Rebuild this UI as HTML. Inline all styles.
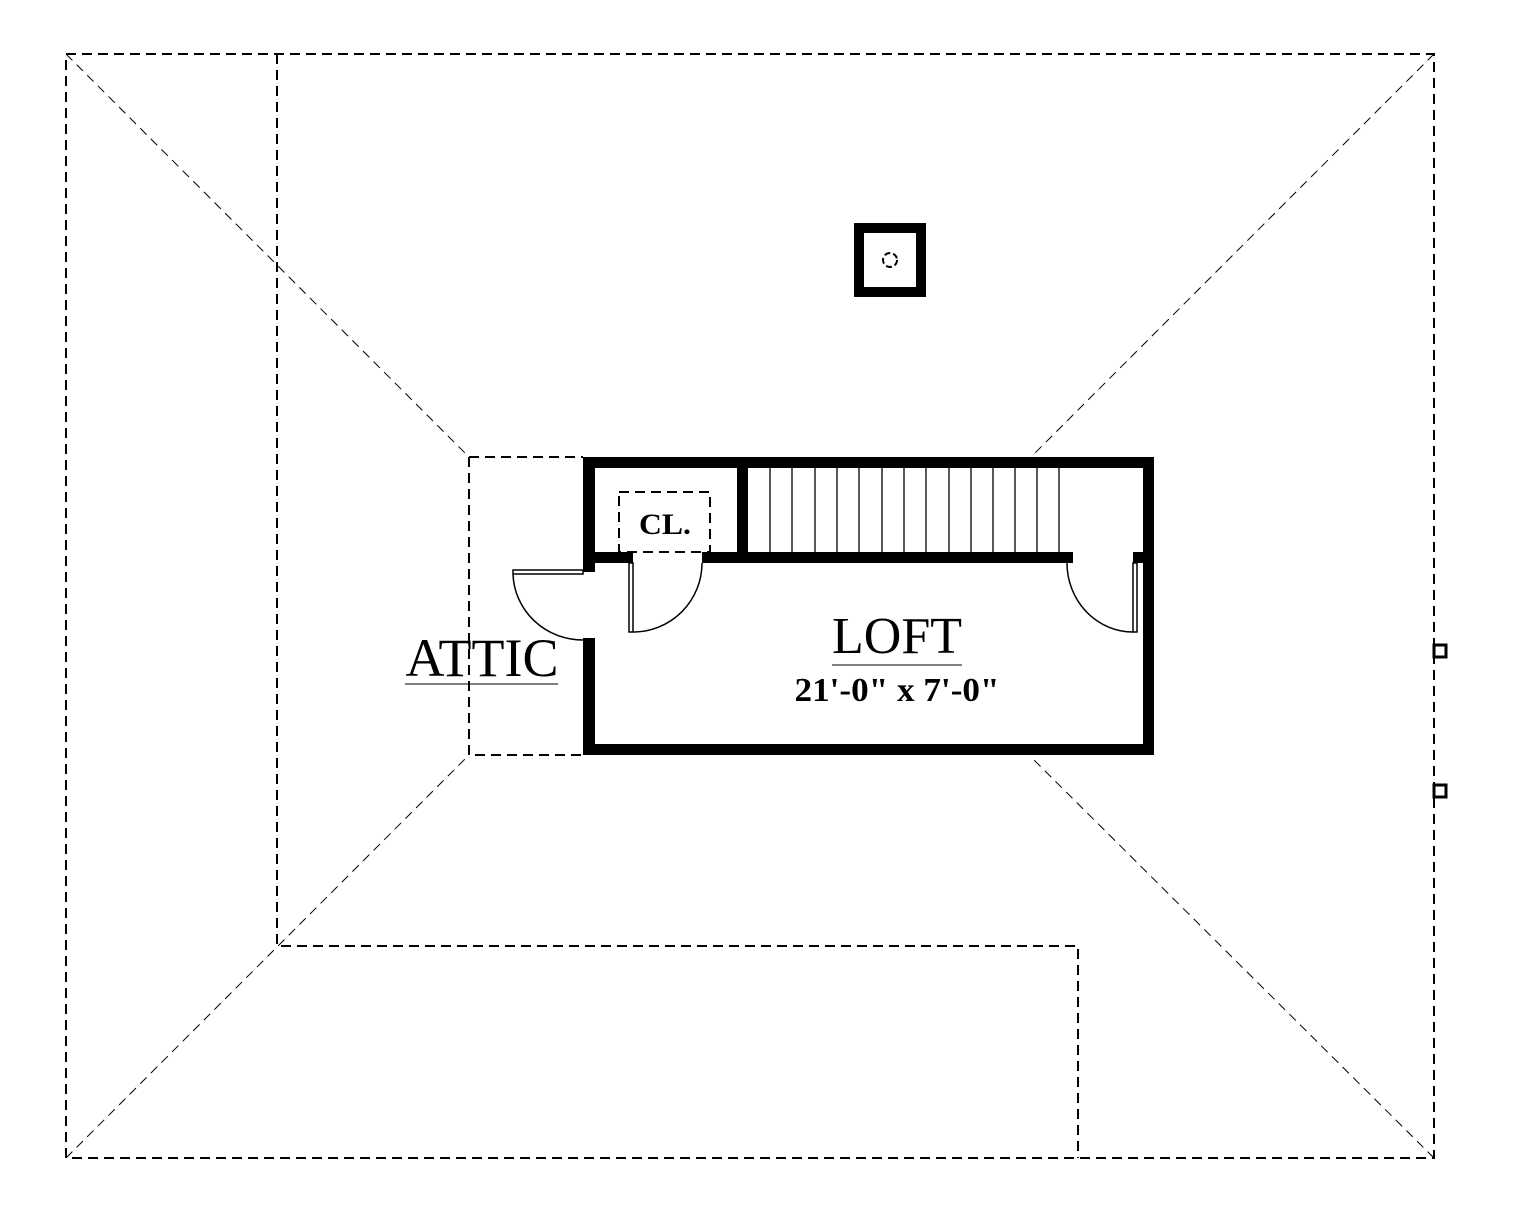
<!DOCTYPE html>
<html><head><style>html,body{margin:0;padding:0;background:#fff}svg{display:block}</style></head>
<body>
<svg width="1532" height="1232" viewBox="0 0 1532 1232" xmlns="http://www.w3.org/2000/svg">
<g fill="none" stroke="#000" stroke-width="2" stroke-dasharray="10,6">
<rect x="66" y="54" width="1368" height="1104"/>
<path d="M277 54 V946 H1078 V1158"/>
<path d="M469 457 H583 M469 457 V755 H583"/>
<rect x="619" y="492" width="91" height="60"/>
</g>
<g fill="none" stroke="#000" stroke-width="1" stroke-dasharray="9,6">
<path d="M66 54 L469 457"/>
<path d="M1434 54 L1030 458"/>
<path d="M1434 1158 L1033 759"/>
<path d="M66 1158 L469 755"/>
</g>
<rect x="859" y="228" width="62" height="64" fill="none" stroke="#000" stroke-width="10"/>
<circle cx="890" cy="260" r="7" fill="none" stroke="#000" stroke-width="2" stroke-dasharray="6,3"/>
<rect x="1434" y="645" width="12" height="12" fill="#fff" stroke="#000" stroke-width="3"/>
<rect x="1434" y="785" width="12" height="12" fill="#fff" stroke="#000" stroke-width="3"/>
<g fill="#000">
<rect x="583" y="457" width="571" height="11"/>
<rect x="1143" y="457" width="11" height="298"/>
<rect x="583" y="744" width="571" height="11"/>
<rect x="583" y="457" width="12" height="115"/>
<rect x="583" y="638" width="12" height="117"/>
<rect x="737" y="457" width="11" height="106"/>
<rect x="583" y="552" width="50" height="11"/>
<rect x="702" y="552" width="371" height="11"/>
<rect x="1133" y="552" width="21" height="11"/>
</g>
<g stroke="#000" stroke-width="1.3">
<path d="M770 467V552M792 467V552M815 467V552M837 467V552M859 467V552M882 467V552M904 467V552M926 467V552M949 467V552M971 467V552M993 467V552M1015 467V552M1037 467V552M1059 467V552"/>
</g>
<g fill="none" stroke="#000" stroke-width="1.5">
<rect x="513" y="570" width="70" height="4"/>
<path d="M513 574 A 70 68 0 0 0 583 640"/>
<rect x="629" y="563" width="4" height="69"/>
<path d="M633 632 A 69 69 0 0 0 702 563"/>
<rect x="1133" y="563" width="4" height="69"/>
<path d="M1133 632 A 66 69 0 0 1 1067 563"/>
</g>
<g font-family="Liberation Serif, serif" fill="#000" text-anchor="middle">
<text x="665" y="534" font-size="30" font-weight="bold" textLength="52" lengthAdjust="spacingAndGlyphs">CL.</text>
<text x="897" y="653" font-size="52" textLength="130" lengthAdjust="spacingAndGlyphs">LOFT</text>
<text x="897" y="701" font-size="34" font-weight="bold" textLength="205" lengthAdjust="spacingAndGlyphs">21'-0" x 7'-0"</text>
<text x="482" y="676" font-size="54" textLength="153" lengthAdjust="spacingAndGlyphs">ATTIC</text>
</g>
<path d="M832 665H962M405 684H558" stroke="#000" stroke-width="1"/>
</svg>
</body></html>
